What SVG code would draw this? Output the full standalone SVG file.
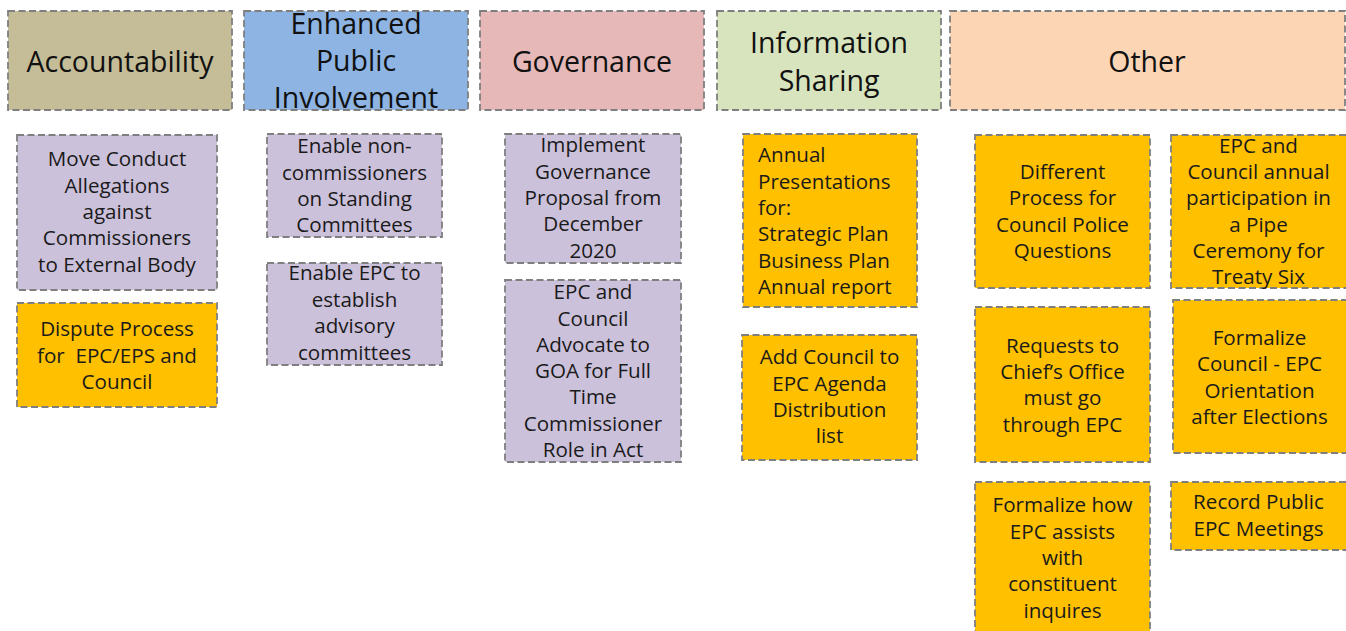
<svg xmlns="http://www.w3.org/2000/svg" width="1346" height="631" viewBox="0 0 1346 631">
  <style>
    .box { stroke: #7f7f7f; stroke-width: 1.8; stroke-dasharray: 7 3.5; }
    .hdr { font-family: "Open Sans", "Liberation Sans", sans-serif; font-size: 28.5px; fill: #111; text-anchor: middle; }
    .txt { font-family: "Open Sans", "Liberation Sans", sans-serif; font-size: 20.6px; fill: #1a1a1a; text-anchor: middle; }
    .left { text-anchor: start; }
    .pre { white-space: pre; }
    .acc { fill: #c4bd97; }
    .epi { fill: #8db4e2; }
    .gov { fill: #e6b9b8; }
    .inf { fill: #d7e4bd; }
    .oth { fill: #fcd5b5; }
    .purple { fill: #ccc1da; }
    .orange { fill: #ffc000; }
  </style>

  <rect width="1346" height="631" fill="#ffffff"/>

  <!-- category headers -->
  <g id="hdr-accountability">
    <rect class="box acc" x="8" y="11" width="224" height="99"/>
    <text class="hdr" x="120" y="72">Accountability</text>
  </g>
  <g id="hdr-public-involvement">
    <rect class="box epi" x="244" y="11" width="224" height="99"/>
    <text class="hdr" x="356"><tspan x="356" y="34">Enhanced</tspan><tspan x="356" y="71">Public</tspan><tspan x="356" y="108">Involvement</tspan></text>
  </g>
  <g id="hdr-governance">
    <rect class="box gov" x="480" y="11" width="224" height="99"/>
    <text class="hdr" x="592" y="72">Governance</text>
  </g>
  <g id="hdr-information-sharing">
    <rect class="box inf" x="717" y="11" width="224" height="99"/>
    <text class="hdr"><tspan x="829" y="53">Information</tspan><tspan x="829" y="91">Sharing</tspan></text>
  </g>
  <g id="hdr-other">
    <rect class="box oth" x="950" y="11" width="395" height="99"/>
    <text class="hdr" x="1147" y="72">Other</text>
  </g>

  <!-- Accountability items -->
  <g id="acc-conduct">
    <rect class="box purple" x="17" y="135" width="200" height="155"/>
    <text class="txt"><tspan x="117" y="166">Move Conduct</tspan><tspan x="117" y="193">Allegations</tspan><tspan x="117" y="219">against</tspan><tspan x="117" y="245">Commissioners</tspan><tspan x="117" y="272">to External Body</tspan></text>
  </g>
  <g id="acc-dispute">
    <rect class="box orange" x="17" y="303" width="200" height="104"/>
    <text class="txt pre"><tspan x="117" y="336">Dispute Process</tspan><tspan x="117" y="363">for  EPC/EPS and</tspan><tspan x="117" y="389">Council</tspan></text>
  </g>

  <!-- Enhanced Public Involvement items -->
  <g id="epi-noncommissioners">
    <rect class="box purple" x="267" y="134" width="175" height="103"/>
    <text class="txt"><tspan x="354.5" y="153">Enable non-</tspan><tspan x="354.5" y="180">commissioners</tspan><tspan x="354.5" y="206">on Standing</tspan><tspan x="354.5" y="232">Committees</tspan></text>
  </g>
  <g id="epi-advisory">
    <rect class="box purple" x="267" y="263" width="175" height="102"/>
    <text class="txt"><tspan x="354.5" y="280">Enable EPC to</tspan><tspan x="354.5" y="307">establish</tspan><tspan x="354.5" y="333">advisory</tspan><tspan x="354.5" y="360">committees</tspan></text>
  </g>

  <!-- Governance items -->
  <g id="gov-proposal">
    <rect class="box purple" x="505" y="134" width="176" height="129"/>
    <text class="txt"><tspan x="593" y="152">Implement</tspan><tspan x="593" y="179">Governance</tspan><tspan x="593" y="205">Proposal from</tspan><tspan x="593" y="231">December</tspan><tspan x="593" y="258">2020</tspan></text>
  </g>
  <g id="gov-fulltime">
    <rect class="box purple" x="505" y="280" width="176" height="182"/>
    <text class="txt"><tspan x="593" y="299">EPC and</tspan><tspan x="593" y="326">Council</tspan><tspan x="593" y="352">Advocate to</tspan><tspan x="593" y="378">GOA for Full</tspan><tspan x="593" y="404">Time</tspan><tspan x="593" y="431">Commissioner</tspan><tspan x="593" y="457">Role in Act</tspan></text>
  </g>

  <!-- Information Sharing items -->
  <g id="inf-presentations">
    <rect class="box orange" x="743" y="134" width="174" height="173"/>
    <text class="txt left"><tspan x="758" y="162">Annual</tspan><tspan x="758" y="189">Presentations</tspan><tspan x="758" y="215">for:</tspan><tspan x="758" y="241">Strategic Plan</tspan><tspan x="758" y="268">Business Plan</tspan><tspan x="758" y="294">Annual report</tspan></text>
  </g>
  <g id="inf-agenda">
    <rect class="box orange" x="742" y="335" width="175" height="125"/>
    <text class="txt"><tspan x="829.5" y="364">Add Council to</tspan><tspan x="829.5" y="391">EPC Agenda</tspan><tspan x="829.5" y="417">Distribution</tspan><tspan x="829.5" y="443">list</tspan></text>
  </g>

  <!-- Other items -->
  <g id="oth-police-questions">
    <rect class="box orange" x="975" y="135" width="175" height="153"/>
    <text class="txt"><tspan x="1062.5" y="179">Different</tspan><tspan x="1062.5" y="205">Process for</tspan><tspan x="1062.5" y="232">Council Police</tspan><tspan x="1062.5" y="258">Questions</tspan></text>
  </g>
  <g id="oth-pipe-ceremony">
    <rect class="box orange" x="1171" y="135" width="176" height="153"/>
    <text class="txt"><tspan x="1258.5" y="153">EPC and</tspan><tspan x="1258.5" y="179">Council annual</tspan><tspan x="1258.5" y="205">participation in</tspan><tspan x="1258.5" y="232">a Pipe</tspan><tspan x="1258.5" y="258">Ceremony for</tspan><tspan x="1258.5" y="284">Treaty Six</tspan></text>
  </g>
  <g id="oth-chiefs-office">
    <rect class="box orange" x="975" y="307" width="175" height="155"/>
    <text class="txt"><tspan x="1062.5" y="353">Requests to</tspan><tspan x="1062.5" y="379">Chief’s Office</tspan><tspan x="1062.5" y="405">must go</tspan><tspan x="1062.5" y="432">through EPC</tspan></text>
  </g>
  <g id="oth-orientation">
    <rect class="box orange" x="1173" y="300" width="174" height="153"/>
    <text class="txt"><tspan x="1259.5" y="345">Formalize</tspan><tspan x="1259.5" y="371">Council - EPC</tspan><tspan x="1259.5" y="398">Orientation</tspan><tspan x="1259.5" y="424">after Elections</tspan></text>
  </g>
  <g id="oth-constituent">
    <rect class="box orange" x="975" y="482" width="175" height="160"/>
    <text class="txt"><tspan x="1062.5" y="512">Formalize how</tspan><tspan x="1062.5" y="539">EPC assists</tspan><tspan x="1062.5" y="565">with</tspan><tspan x="1062.5" y="591">constituent</tspan><tspan x="1062.5" y="618">inquires</tspan></text>
  </g>
  <g id="oth-record-meetings">
    <rect class="box orange" x="1171" y="482" width="176" height="68"/>
    <text class="txt"><tspan x="1258.5" y="509">Record Public</tspan><tspan x="1258.5" y="536">EPC Meetings</tspan></text>
  </g>

  <!-- no connectors in this board -->
  <g id="connectors"/>
</svg>
